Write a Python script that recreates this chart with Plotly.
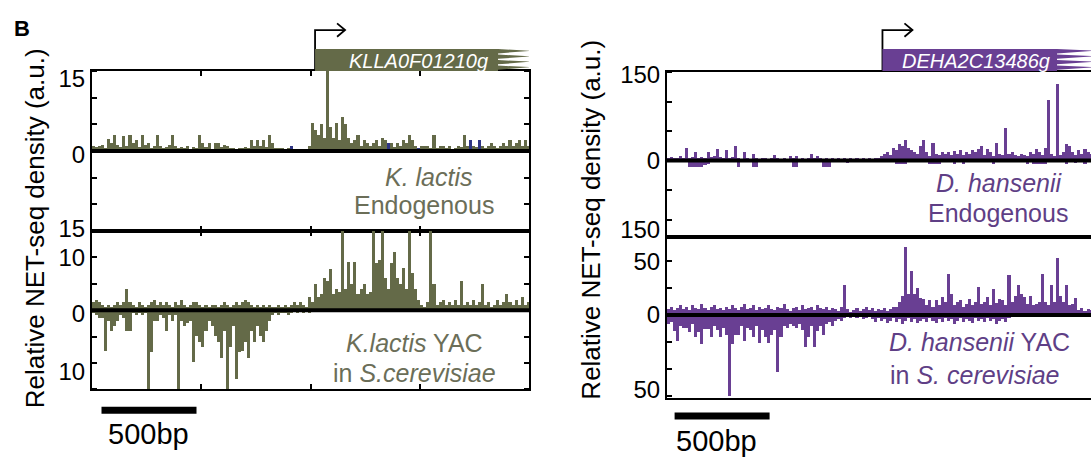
import numpy as np
import plotly.graph_objects as go

W, H = 1091, 465
FONT = "Liberation Sans, Arial, Helvetica, sans-serif"
OLIVE = "#646a48"
OLIVE_TXT = "#6b6e58"
NAVY = "#2f3584"
PURPLE = "#693f93"
PURPLE_TXT = "#5f3f86"

BIN_BP = 16            # genomic bin size (bp)
BP_PER_PX = 500 / 95   # from the 500 bp scale bar
SCALE_BP = 500

# ---------------- K. lactis locus (KLLA0F01210g) ----------------
KL_GENE = "KLLA0F01210g"
KL_TSS_BP = 1174
KL_ENDO = [1.0, 0.8, 1.0, 1.2, 0.6, 2.2, 1.5, 3.0, 1.2, 0.8, 2.8, 1.0, 3.0, 1.5, 2.0, 0.8,
           3.0, 1.2, 1.5, 0.6, 1.0, 3.0, 1.0, 0.5, 0.8, 1.2, 3.0, 1.0, 0.5, 0.8, 0.6, 1.0,
           0.4, 0.8, 0.6, 3.0, 1.5, 0.8, 1.5, 0.3, 1.5, 1.5, 0.8, 1.2, 1.0, 0.5, 0.6, 0.4,
           0.6, 0.5, 0.8, 0.6, 2.0, 1.0, 2.0, 1.0, 2.0, 0.8, 3.0, 1.5, 0.6, 0.5, 0.5, 0.4,
           0.5, 0.3, 0.2, 0.3, 0.2, 0.2, 0.3, 1.0, 5.2, 4.0, 3.0, 5.0, 2.5, 15.0, 4.5, 2.5,
           5.2, 2.0, 6.3, 5.0, 2.5, 1.5, 2.0, 3.0, 1.0, 2.0, 1.5, 1.0, 1.5, 2.0, 1.0, 2.5,
           2.0, 1.0, 1.5, 0.8, 1.5, 1.0, 2.0, 1.5, 3.0, 2.0, 1.0, 0.5, 1.0, 1.0, 1.0, 0.5,
           3.0, 0.5, 1.0, 1.0, 0.5, 1.0, 0.3, 0.5, 1.0, 0.8, 3.0, 1.0, 0.5, 1.0, 0.8, 0.5,
           1.0, 0.5, 1.0, 1.5, 1.0, 0.5, 1.0, 1.5, 1.0, 2.0, 1.0, 1.5, 2.0, 1.0, 2.0, 1.0]
KL_ENDO_OTHER_BINS = [65, 97, 107, 124, 127]
KL_ENDO_OTHER_VALS = [1.0, 1.5, 0.5, 2.0, 2.0]
KL_YAC_SENSE = [1.5, 2.0, 1.5, 1.0, 0.5, 1.0, 0.5, 1.0, 1.5, 1.0, 1.5, 4.0, 1.5, 1.0, 0.5, 1.5,
                1.0, 0.5, 1.0, 1.5, 2.0, 1.0, 1.5, 1.0, 1.5, 1.0, 0.5, 1.5, 1.0, 2.0, 1.0, 0.5,
                1.0, 1.5, 1.5, 1.0, 0.5, 1.0, 0.5, 1.0, 1.0, 0.5, 1.0, 1.5, 1.0, 0.5, 1.0, 1.5,
                1.0, 1.5, 2.0, 1.5, 1.0, 0.5, 1.0, 0.5, 1.0, 0.5, 1.0, 0.5, 0.5, 1.0, 0.5, 1.0,
                0.5, 1.0, 1.5, 1.0, 1.5, 1.0, 0.5, 2.5, 1.5, 5.0, 2.5, 3.0, 6.0, 5.5, 7.8, 3.0,
                4.0, 3.5, 15.0, 4.0, 9.2, 5.0, 9.2, 3.0, 4.0, 5.0, 3.0, 3.5, 15.0, 9.0, 9.5, 15.0,
                6.0, 4.0, 9.0, 11.0, 6.0, 5.0, 8.0, 4.0, 15.0, 7.0, 4.0, 2.0, 1.0, 0.5, 1.5, 15.0,
                5.0, 1.0, 1.5, 2.0, 1.0, 1.5, 1.0, 2.0, 1.0, 5.5, 1.0, 1.5, 1.0, 2.0, 1.0, 1.5,
                5.0, 1.0, 1.5, 0.5, 1.0, 2.0, 1.0, 1.5, 3.0, 1.5, 1.0, 2.0, 1.0, 2.5, 1.0, 1.5]
KL_YAC_ANTI = [-0.5, -1.0, -1.5, -1.5, -7.7, -2.0, -4.0, -3.0, -2.0, -1.0, -1.5, -4.0, -4.0, -0.5, -1.0, -0.5,
               -1.0, -0.5, -15.0, -8.0, -2.0, -2.0, -1.0, -1.5, -4.0, -1.0, -2.0, -1.0, -15.0, -2.0, -3.0, -2.5,
               -2.0, -9.8, -5.0, -6.0, -7.0, -4.0, -2.0, -3.0, -5.0, -6.0, -9.0, -4.0, -15.0, -7.0, -3.0, -13.0,
               -8.0, -7.7, -6.0, -9.0, -4.0, -6.0, -3.0, -5.0, -6.0, -4.0, -2.0, -1.0, -0.5, -1.0, -0.5, -0.5,
               -1.0, -0.5, -0.3, -0.5, -0.3, -0.5, -0.3, -0.5, -0.3, 0.0, 0.0, -0.4, 0.0, 0.0, 0.0, 0.0,
               -0.4, 0.0, 0.0, 0.0, 0.0, 0.0, 0.0, 0.0, 0.0, 0.0, 0.0, 0.0, 0.0, 0.0, 0.0, 0.0,
               0.0, 0.0, 0.0, -0.4, 0.0, 0.0, 0.0, 0.0, -0.4, 0.0, 0.0, 0.0, 0.0, 0.0, 0.0, 0.0,
               -0.4, 0.0, 0.0, 0.0, -0.4, 0.0, 0.0, 0.0, 0.0, -0.4, 0.0, 0.0, 0.0, -0.4, 0.0, 0.0,
               0.0, 0.0, -0.4, 0.0, 0.0, 0.0, 0.0, -0.4, 0.0, 0.0, -0.4, 0.0, 0.0, -0.4, 0.0, 0.0]

# ---------------- D. hansenii locus (DEHA2C13486g) ----------------
DH_GENE = "DEHA2C13486g"
DH_TSS_BP = 1134
DH_ENDO_SENSE = [5, 6, 4, 5, 8, 4, 21, 5, 6, 15, 4, 6, 5, 15, 6, 8, 20, 6, 5, 18, 4, 6, 25, 5,
                 3, 15, 4, 3, 12, 4, 3, 5, 4, 3, 4, 10, 5, 3, 4, 3, 8, 5, 8, 3, 4, 3, 4, 12,
                 5, 8, 4, 3, 4, 3, 4, 3, 4, 3, 4, 3, 4, 3, 4, 3, 4, 3, 4, 3, 4, 5, 8, 12,
                 15, 10, 22, 18, 28, 25, 35, 22, 18, 15, 12, 25, 35, 15, 8, 30, 12, 10, 15, 12, 14, 10,
                 16, 12, 18, 10, 15, 12, 18, 14, 20, 25, 10, 20, 15, 8, 30, 12, 10, 55, 12, 15, 10, 8,
                 12, 10, 8, 15, 12, 20, 15, 10, 22, 103, 12, 8, 130, 10, 15, 28, 25, 15, 10, 18, 12, 20,
                 15, 12]
DH_ENDO_ANTI_BINS = [7, 8, 9, 10, 11, 12, 13, 23, 28, 29, 41, 42, 51, 52, 53, 59,
                     75, 76, 77, 78, 86, 87, 88, 89, 94, 97, 107, 118, 120, 121, 122, 123, 124, 131, 134, 137]
DH_ENDO_ANTI_VALS = [-10, -10, -10, -10, -10, -8, -6, -10, -10, -10, -10, -10, -10, -10, -10, -4,
                     -5, -5, -5, -5, -5, -5, -5, -5, -5, -5, -5, -5, -5, -5, -5, -5, -5, -5, -4, -5]
DH_YAC_SENSE = [6, 8, 5, 7, 9, 6, 8, 5, 9, 7, 6, 10, 7, 5, 8, 9, 6, 7, 5, 8, 6, 9, 7, 5,
                8, 10, 6, 7, 9, 5, 8, 6, 7, 9, 6, 5, 8, 7, 10, 6, 4, 7, 8, 5, 9, 6, 7, 8,
                5, 9, 7, 6, 8, 5, 7, 6, 4, 8, 28, 6, 3, 5, 7, 4, 6, 8, 5, 7, 4, 6, 5, 7,
                4, 6, 8, 8, 12, 18, 63, 20, 41, 20, 25, 16, 15, 9, 14, 8, 14, 9, 17, 12, 38, 20, 9, 12,
                14, 8, 10, 15, 9, 12, 26, 10, 12, 17, 9, 24, 11, 15, 14, 9, 37, 12, 18, 28, 20, 17, 10, 18,
                9, 10, 12, 38, 12, 9, 28, 12, 53, 18, 12, 28, 9, 10, 16, 5, 7, 4, 6, 5]
DH_YAC_ANTI = [-8, -6, -15, -24, -10, -12, -12, -16, -8, -20, -16, -27, -13, -13, -20, -10,
               -14, -20, -12, -18, -75, -27, -18, -18, -10, -24, -12, -14, -20, -10, -26, -14,
               -20, -26, -18, -14, -53, -20, -10, -12, -8, -10, -12, -8, -14, -30, -20, -10,
               -30, -15, -10, -18, -8, -6, -10, -5, -4, -5, -3, -2, -3, -2, -3, -2, -4, -3,
               -2, -4, -6, -3, -5, -4, -7, -5, -3, -6, -4, -8, -5, -3, -6, -4, -7, -5, -4, -6,
               -3, -5, -7, -4, -6, -3, -5, -4, -8, -5, -3, -6, -4, -5, -7, -3, -5, -4, -6, -3,
               -5, -4, -8, -5, -4, -6, -3, -2, -1, 0, -1, 0, 0, -1, 0, 0, -1, 0, 0, -1,
               0, 0, -1, 0, 0, -1, 0, 0, -1, 0, 0, -1, 0, 0]

# ---------------- geometry helpers (pixel -> paper) ----------------
def fx(p):
    return p / W

def fy(p):
    return 1 - p / H

L_X0, L_X1 = 92, 529
R_X0, R_X1 = 667, 1091
L_RANGE = [0, (L_X1 - L_X0) * BP_PER_PX]
R_RANGE = [0, (R_X1 - R_X0) * BP_PER_PX]


def centers(n):
    return (np.arange(n) + 0.5) * BIN_BP


fig = go.Figure()

def add_bars(xs, ys, color, xa, ya):
    fig.add_trace(go.Bar(x=xs, y=ys, width=BIN_BP, marker=dict(color=color, line=dict(width=0)),
                         xaxis=xa, yaxis=ya, showlegend=False, hoverinfo="skip"))

# left top: K. lactis endogenous
add_bars(centers(len(KL_ENDO)), KL_ENDO, OLIVE, "x", "y")
add_bars((np.array(KL_ENDO_OTHER_BINS) + 0.5) * BIN_BP, KL_ENDO_OTHER_VALS, NAVY, "x", "y")
# left bottom: K. lactis YAC
add_bars(centers(len(KL_YAC_SENSE)), KL_YAC_SENSE, OLIVE, "x2", "y2")
add_bars(centers(len(KL_YAC_ANTI)), KL_YAC_ANTI, OLIVE, "x2", "y2")
# right top: D. hansenii endogenous
add_bars(centers(len(DH_ENDO_SENSE)), DH_ENDO_SENSE, PURPLE, "x3", "y3")
add_bars((np.array(DH_ENDO_ANTI_BINS) + 0.5) * BIN_BP, DH_ENDO_ANTI_VALS, PURPLE, "x3", "y3")
# right bottom: D. hansenii YAC
add_bars(centers(len(DH_YAC_SENSE)), DH_YAC_SENSE, PURPLE, "x4", "y4")
add_bars(centers(len(DH_YAC_ANTI)), DH_YAC_ANTI, PURPLE, "x4", "y4")

tickfont = dict(family=FONT, size=24, color="black")

def xaxis(dom, rng, anchor, ticks):
    d = dict(domain=dom, range=rng, anchor=anchor, showline=True, linecolor="black", linewidth=2,
             mirror="ticks" if ticks else True, showgrid=False, zeroline=False, showticklabels=False,
             fixedrange=True)
    if ticks:
        q = (rng[1] - rng[0]) / 4
        d.update(tickmode="array", tickvals=[q, 2 * q, 3 * q], ticks="inside", ticklen=5,
                 tickwidth=1.5, tickcolor="black")
    else:
        d.update(ticks="")
    return d

def yaxis(dom, rng, anchor, tv, tt, minor_dt, mirror):
    return dict(domain=dom, range=rng, anchor=anchor, showline=True, linecolor="black", linewidth=2,
                mirror="ticks" if mirror else False, showgrid=False, zeroline=False,
                tickmode="array", tickvals=tv, ticktext=tt, ticks="", tickfont=tickfont,
                minor=dict(dtick=minor_dt, tick0=0, ticks="inside", ticklen=5, tickwidth=1.5,
                           tickcolor="black"),
                fixedrange=True)

LX = [fx(L_X0), fx(L_X1)]
RX = [fx(R_X0), 1.0]
fig.update_layout(
    xaxis=xaxis(LX, L_RANGE, "y", True),
    xaxis2=xaxis(LX, L_RANGE, "y2", True),
    xaxis3=xaxis(RX, R_RANGE, "y3", False),
    xaxis4=xaxis(RX, R_RANGE, "y4", False),
    yaxis=yaxis([fy(231), fy(63)], [-15, 15], "x", [-14.6, -0.6, 13.6], ["15", "0", "15"], 5, True),
    yaxis2=yaxis([fy(397), fy(231)], [-15, 15], "x2", [10, -0.6, -11.6], ["10", "0", "10"], 5, True),
    yaxis3=yaxis([fy(237), fy(64)], [-129, 150], "x3", [-116, 0, 145], ["150", "0", "150"], 50, False),
    yaxis4=yaxis([fy(406), fy(237)], [-77, 72.6], "x4", [-69, 0, 50], ["50", "0", "50"], 25, False),
)

shapes = []
# thick zero lines above the bars
for xa, ya in [("x", "y"), ("x2", "y2"), ("x3", "y3"), ("x4", "y4")]:
    shapes.append(dict(type="line", xref=f"{xa} domain", yref=ya, x0=0, x1=1, y0=0, y1=0,
                       line=dict(color="black", width=4), layer="above"))

# scale bars (500 bp)
for xa, start, ypx in [("x", 50, 419), ("x3", 40, 425)]:
    shapes.append(dict(type="line", xref=xa, yref="paper", x0=start, x1=start + SCALE_BP,
                       y0=fy(ypx), y1=fy(ypx), line=dict(color="black", width=7)))


def gene_shapes(xa, tss, box_end_bp, tip_bp, color):
    top, bot = fy(40), fy(63)
    # TSS bent arrow
    shapes.append(dict(type="path", xref=xa, yref="paper",
                       path=f"M {tss},{fy(63)} L {tss},{fy(20)} L {tss + 30 * BP_PER_PX},{fy(20)}",
                       line=dict(color="black", width=1.8)))
    shapes.append(dict(type="path", xref=xa, yref="paper",
                       path=(f"M {tss + 22 * BP_PER_PX},{fy(13)} L {tss + 30 * BP_PER_PX},{fy(20)} "
                             f"L {tss + 22 * BP_PER_PX},{fy(27)}"),
                       line=dict(color="black", width=1.8)))
    # gene body with feathered (comb) end
    n = 4
    hh = (top - bot) / n
    p = f"M {tss},{bot} L {tss},{top}"
    for k in range(n):
        yt = top - k * hh
        p += (f" L {box_end_bp},{yt} L {tip_bp},{yt - 0.3 * hh}"
              f" L {box_end_bp},{yt - 0.78 * hh} L {box_end_bp},{yt - hh}")
    p += f" L {tss},{bot} Z"
    shapes.append(dict(type="path", xref=xa, yref="paper", path=p,
                       fillcolor=color, line=dict(width=0)))


gene_shapes("x", KL_TSS_BP, (498 - L_X0) * BP_PER_PX, (531 - L_X0) * BP_PER_PX, OLIVE)
gene_shapes("x3", DH_TSS_BP, (1057 - R_X0) * BP_PER_PX, (1094 - R_X0) * BP_PER_PX, PURPLE)
fig.update_layout(shapes=shapes)

ann = []

def text(xp, yp, s, size, color="black", **kw):
    d = dict(x=fx(xp), y=fy(yp), xref="paper", yref="paper", text=s, showarrow=False,
             font=dict(family=FONT, size=size, color=color), xanchor="center", yanchor="middle",
             borderpad=0)
    d.update(kw)
    ann.append(d)

text(13, 18, "<b>B</b>", 22, xanchor="left")
text(418, 52, f"<i>{KL_GENE}</i>", 20, "white")
text(976, 52, f"<i>{DH_GENE}</i>", 20, "white")
text(429, 174, "<i>K. lactis</i>", 25, OLIVE_TXT)
text(424, 204, "Endogenous", 25, OLIVE_TXT)
text(414, 349, "<i>K.lactis</i> YAC", 25, OLIVE_TXT)
text(414, 380, "in <i>S.cerevisiae</i>", 25, OLIVE_TXT)
text(999, 181, "<i>D. hansenii</i>", 25, PURPLE_TXT)
text(998, 212, "Endogenous", 25, PURPLE_TXT)
text(979, 347, "<i>D. hansenii</i> YAC", 25, PURPLE_TXT)
text(975, 382, "in <i>S. cerevisiae</i>", 25, PURPLE_TXT)
text(35, 228, "Relative NET-seq density (a.u.)", 26, textangle=-90)
text(591, 219, "Relative NET-seq density (a.u.)", 26, textangle=-90)
text(148, 444, "500bp", 29)
text(716, 451, "500bp", 29)
fig.update_layout(annotations=ann)

fig.update_layout(width=W, height=H, margin=dict(l=0, r=0, t=0, b=0),
                  paper_bgcolor="white", plot_bgcolor="white", barmode="overlay", bargap=0,
                  showlegend=False, font=dict(family=FONT))

fig.write_html("out.html")
